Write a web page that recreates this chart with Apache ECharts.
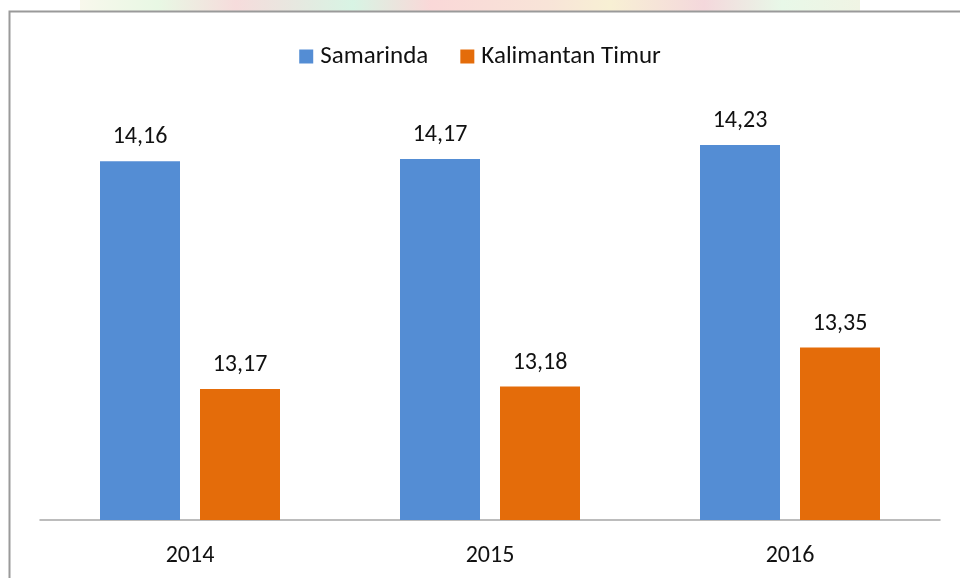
<!DOCTYPE html>
<html>
<head>
<meta charset="utf-8">
<script src="https://cdn.jsdelivr.net/npm/echarts@6/dist/echarts.min.js"></script>
<style>
  html, body { margin: 0; padding: 0; background: #fff; }
  #chart { width: 960px; height: 578px; }
</style>
</head>
<body>
<div id="chart"></div>
<script>
var years = ['2014', '2015', '2016']
var samarinda = [14.16, 14.17, 14.23]
var kaltim = [13.17, 13.18, 13.35]

var font = 'Calibri, Carlito, Lato, sans-serif'

var chart = echarts.init(document.getElementById('chart'))

// value label with comma decimal
function fmt (p) {
  return p.value.toFixed(2).replace('.', ',')
}

chart.setOption({
  animation: false,
  textStyle: { fontFamily: font },
  // frame + blurred strip at the top
  graphic: [
    {
      type: 'rect',
      shape: { x: 80, y: 0, width: 780, height: 11 },
      style: {
        fill: {
          type: 'linear', x: 0, y: 0, x2: 1, y2: 0,
          colorStops: [
            { offset: 0, color: '#f8f8ec' },
            { offset: 0.1, color: '#e8f8e4' },
            { offset: 0.2, color: '#f6dcdc' },
            { offset: 0.35, color: '#d8f4e4' },
            { offset: 0.45, color: '#fad8d8' },
            { offset: 0.6, color: '#f8e4d8' },
            { offset: 0.68, color: '#f8f0d4' },
            { offset: 0.8, color: '#f4d8dc' },
            { offset: 0.9, color: '#e8f8e8' },
            { offset: 1, color: '#f0f4e4' }
          ]
        }
      },
      silent: true
    },
    {
      type: 'polyline',
      shape: { points: [[9.5, 578], [9.5, 11.5], [960, 11.5]] },
      style: { stroke: '#9a9a9a', lineWidth: 2, fill: null },
      silent: true
    }
  ],
  legend: {
    top: 39,
    left: 'center',
    itemWidth: 14,
    itemHeight: 14,
    itemGap: 32,
    icon: 'rect',
    textStyle: { fontSize: 25, color: '#111', fontFamily: font, padding: [0, 0, 0, 2] },
    data: ['Samarinda', 'Kalimantan Timur']
  },
  grid: {
    left: 40,
    right: 20,
    top: 106,
    bottom: 58,
    containLabel: false
  },
  xAxis: {
    type: 'category',
    data: years,
    axisLine: { lineStyle: { color: '#a6a6a6', width: 1.5 } },
    axisTick: { show: false },
    axisLabel: { fontSize: 24, color: '#111', margin: 24, fontFamily: font }
  },
  yAxis: {
    type: 'value',
    min: 12.6,
    max: 14.4,
    show: false,
    splitLine: { show: false }
  },
  series: [
    {
      name: 'Samarinda',
      type: 'bar',
      data: samarinda,
      barWidth: 80,
      barGap: '25%',
      itemStyle: { color: '#548dd4' },
      label: {
        show: true,
        position: 'top',
        distance: 12,
        fontSize: 24,
        color: '#111',
        fontFamily: font,
        formatter: fmt
      }
    },
    {
      name: 'Kalimantan Timur',
      type: 'bar',
      data: kaltim,
      barWidth: 80,
      barGap: '25%',
      itemStyle: { color: '#e46c0a' },
      label: {
        show: true,
        position: 'top',
        distance: 12,
        fontSize: 24,
        color: '#111',
        fontFamily: font,
        formatter: fmt
      }
    }
  ]
})
</script>
</body>
</html>
